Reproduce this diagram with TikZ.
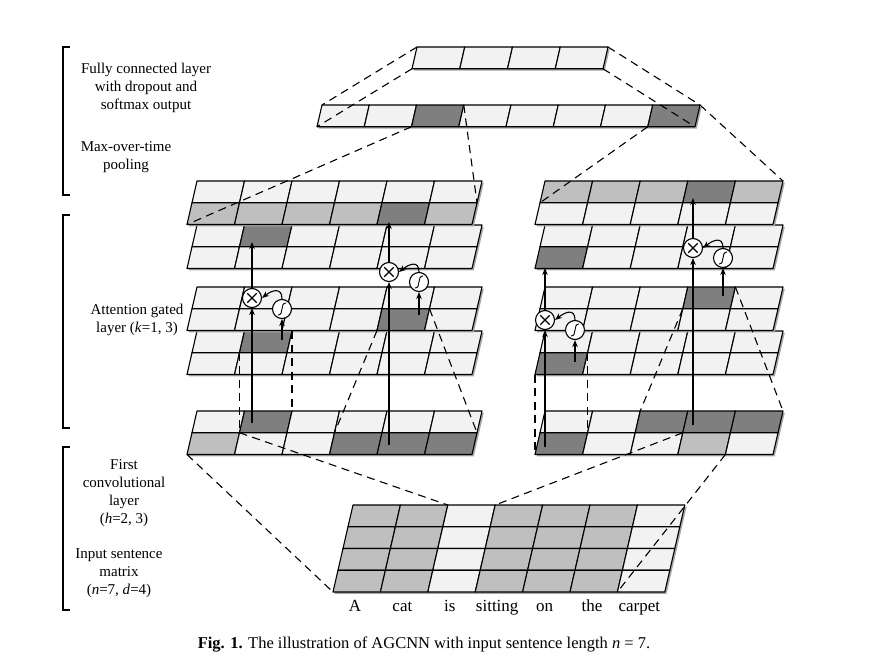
\documentclass[tikz,border=0pt]{standalone}
\usepackage{fontspec}
\setmainfont{Liberation Serif}
\usepackage{tikz}
\usetikzlibrary{arrows.meta,positioning}
\definecolor{cellL}{HTML}{F2F2F2}
\definecolor{cellM}{HTML}{BFBFBF}
\definecolor{cellD}{HTML}{7F7F7F}
\def\skw{0.23}
\def\rowh{21.75}
% feature map: name, x0, y0, cell width, columns, rows, colours row by row
\newcommand{\fmap}[7]{%
  \fill[black!35] ({#2+1.8},{#3+1.8}) -- ++({#5*#4},0) -- ++({-\skw*#6*\rowh},{#6*\rowh}) -- ++({-#5*#4},0) -- cycle;
  \foreach \r [count=\j from 0] in {#7} {
    \foreach \c [count=\i from 0] in \r {
      \filldraw[cell, fill=\c] ({#2+\i*#4-\skw*\j*\rowh},{#3+\j*\rowh}) -- ++(#4,0) -- ++({-\skw*\rowh},\rowh) -- ++(-#4,0) -- cycle;
    }
  }
  \foreach \i in {0,...,#5} {
    \foreach \j in {0,...,#6} {
      \coordinate (#1-\i-\j) at ({#2+\i*#4-\skw*\j*\rowh},{#3+\j*\rowh});
    }
  }
}

\begin{document}
\begin{tikzpicture}[
  x=1pt, y=-1pt,
  cell/.style={draw=black, line width=1.1pt, line join=round},
  gate/.style={circle, draw, fill=white, minimum size=19pt, inner sep=0pt, line width=1.1pt},
  mul/.style={gate, path picture={\draw[line width=1.1pt] ([xshift=-4.7pt,yshift=-4.7pt]path picture bounding box.center) -- ([xshift=4.7pt,yshift=4.7pt]path picture bounding box.center) ([xshift=-4.7pt,yshift=4.7pt]path picture bounding box.center) -- ([xshift=4.7pt,yshift=-4.7pt]path picture bounding box.center);}},
  sig/.style={gate, path picture={\draw[line width=0.9pt] ([xshift=-4pt,yshift=-6pt]path picture bounding box.center) .. controls +(6.5pt,0pt) and +(-6.5pt,0pt) .. ([xshift=4pt,yshift=6pt]path picture bounding box.center);}},
  arrow/.style={->, >={Stealth[length=7pt,width=5.5pt]}, line width=1.1pt},
  link/.style={dash pattern=on 8pt off 5.5pt, line width=1.1pt},
  sidetext/.style={align=center, font=\fontsize{15}{18}\selectfont},
  word/.style={anchor=base, font=\fontsize{17}{20}\selectfont},
  sidebar/.style={line width=1.4pt}
]
\useasboundingbox (0,0) rectangle (875,661);

% Output: fully connected and pooling
\fmap{F}{417}{47}{47.75}{4}{1}{{cellL,cellL,cellL,cellL}}
\fmap{P}{322}{105}{47.25}{8}{1}{{cellL,cellL,cellD,cellL,cellL,cellL,cellL,cellD}}

% Left stack (h=2)
\fmap{L2}{197}{225}{47.5}{6}{2}{{cellL,cellD,cellL,cellL,cellL,cellL},{cellL,cellL,cellL,cellL,cellL,cellL}}
\fmap{L1}{197}{181}{47.5}{6}{2}{{cellL,cellL,cellL,cellL,cellL,cellL},{cellM,cellM,cellM,cellM,cellD,cellM}}
\fmap{L4}{197}{331}{47.5}{6}{2}{{cellL,cellD,cellL,cellL,cellL,cellL},{cellL,cellL,cellL,cellL,cellL,cellL}}
\fmap{L3}{197}{287}{47.5}{6}{2}{{cellL,cellL,cellL,cellL,cellL,cellL},{cellL,cellL,cellL,cellL,cellD,cellL}}
\fmap{LX}{197}{411}{47.5}{6}{2}{{cellL,cellD,cellL,cellL,cellL,cellL},{cellM,cellL,cellL,cellD,cellD,cellD}}

% Right stack (h=3)
\fmap{R2}{545}{225}{47.6}{5}{2}{{cellL,cellL,cellL,cellL,cellL},{cellD,cellL,cellL,cellL,cellL}}
\fmap{R1}{545}{181}{47.6}{5}{2}{{cellM,cellM,cellM,cellD,cellM},{cellL,cellL,cellL,cellL,cellL}}
\fmap{R4}{545}{331}{47.6}{5}{2}{{cellL,cellL,cellL,cellL,cellL},{cellD,cellL,cellL,cellL,cellL}}
\fmap{R3}{545}{287}{47.6}{5}{2}{{cellL,cellL,cellL,cellD,cellL},{cellL,cellL,cellL,cellL,cellL}}
\fmap{RX}{545}{411}{47.6}{5}{2}{{cellL,cellL,cellD,cellD,cellD},{cellD,cellL,cellL,cellM,cellL}}

% Input sentence matrix
\fmap{I}{353}{505}{47.4}{7}{4}{{cellM,cellM,cellL,cellM,cellM,cellM,cellL},{cellM,cellM,cellL,cellM,cellM,cellM,cellL},{cellM,cellM,cellL,cellM,cellM,cellM,cellL},{cellM,cellM,cellL,cellM,cellM,cellM,cellL}}

\foreach \w [count=\i from 0] in {A,cat,is,sitting,on,the,carpet}
  \node[word] (w\i) at ({355+47.4*\i},611) {\w};

% Dashed links between layers
\draw[link] (F-0-0) -- (P-0-0);
\draw[link] (F-0-1) -- (P-0-1);
\draw[link] (F-4-0) -- (P-8-0);
\draw[link] (F-4-1) -- (P-8-1);
\draw[link] (P-2-1) -- (L1-0-2);
\draw[link] (P-3-0) -- (L1-6-1);
\draw[link] (P-7-1) -- (R1-0-1);
\draw[link] (P-8-0) -- (R1-5-0);
\draw[link] (L4-1-1) -- (LX-1-1);
\draw[link] (L4-2-0) -- (LX-2-0);
\draw[link] (L3-4-2) -- (LX-3-1);
\draw[link] (L3-5-1) -- (LX-6-1);
\draw[link] (R4-0-2) -- (RX-0-2);
\draw[link] (R4-1-1) -- (RX-1-1);
\draw[link] (R3-3-1) -- (RX-2-0);
\draw[link] (R3-4-0) -- (RX-5-0);
\draw[link] (LX-0-2) -- (I-0-4);
\draw[link] (LX-1-1) -- (I-2-0);
\draw[link] (RX-3-1) -- (I-3-0);
\draw[link] (RX-4-2) -- (I-6-4);

% Attention gates
\node[mul] (mulA) at (252,298) {};
\node[sig] (sigA) at (282,309) {};
\node[mul] (mulB) at (389,272) {};
\node[sig] (sigB) at (419,282) {};
\node[mul] (mulC) at (693,248) {};
\node[sig] (sigC) at (723,258) {};
\node[mul] (mulD) at (545,320) {};
\node[sig] (sigD) at (575,330) {};

\coordinate (inA) at (252,423);
\coordinate (outA) at (252,242);
\coordinate (gA) at (282,340);
\coordinate (inB) at (389,445);
\coordinate (outB) at (389,222);
\coordinate (gB) at (419,315);
\coordinate (inC) at (693,425);
\coordinate (outC) at (693,198);
\coordinate (gC) at (723,296);
\coordinate (inD) at (545,447);
\coordinate (outD) at (545,268);
\coordinate (gD) at (575,362);

\foreach \g in {A,B,C,D} {
  \draw[arrow] (in\g) -- (mul\g);
  \draw[arrow] (mul\g) -- (out\g);
  \draw[arrow] (g\g) -- (sig\g);
  \draw[arrow] (sig\g.north) .. controls +(0,-12) and +(10,-8) .. (mul\g.east);
}

% Side labels
\draw[sidebar] (70,47) -- (63,47) -- (63,195) -- (70,195);
\draw[sidebar] (70,215) -- (63,215) -- (63,428) -- (70,428);
\draw[sidebar] (70,447) -- (63,447) -- (63,610) -- (70,610);
\node[sidetext] (fctext) at (146,88) {Fully connected layer\\with dropout and\\softmax output};
\node[sidetext] (pooltext) at (126,157) {Max-over-time\\pooling};
\node[sidetext] (atttext) at (137,320) {Attention gated\\layer (\textit{k}=1, 3)};
\node[sidetext] (convtext) at (124,493) {First\\convolutional\\layer\\(\textit{h}=2, 3)};
\node[sidetext] (intext) at (119,573) {Input sentence\\matrix\\(\textit{n}=7, \textit{d}=4)};

% Caption
\node[font=\fontsize{16.5}{20}\selectfont] (caption) at (424,645) {\textbf{Fig. 1.} The illustration of AGCNN with input sentence length \textit{n} = 7.};

\end{tikzpicture}
\end{document}
